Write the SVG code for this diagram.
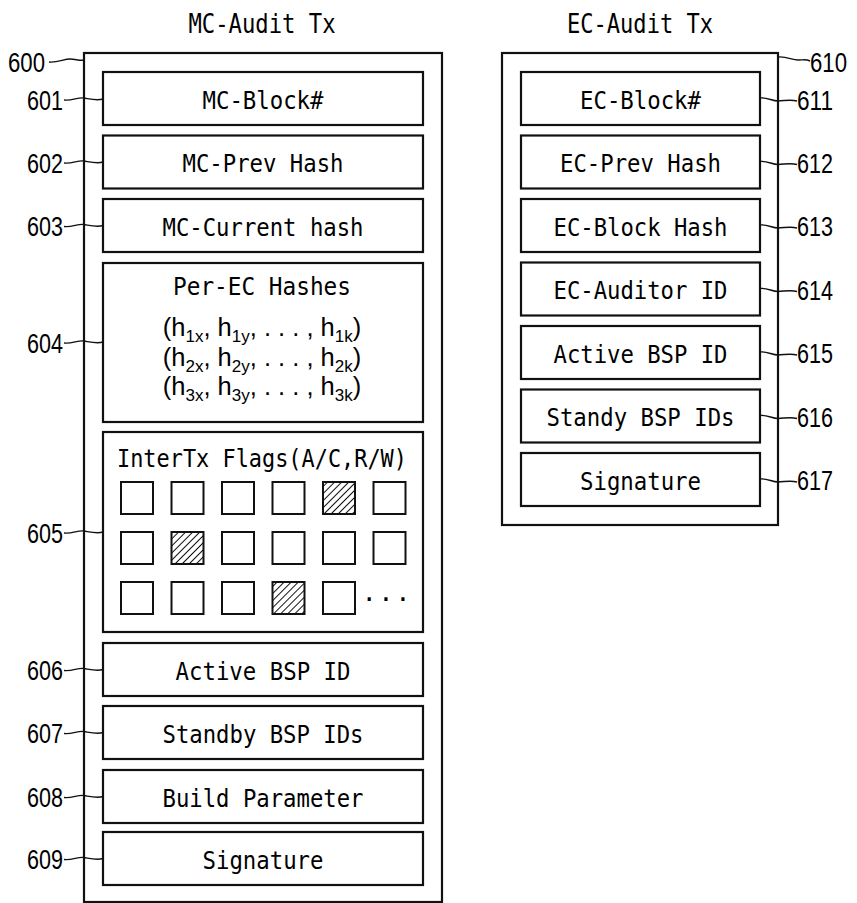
<svg xmlns="http://www.w3.org/2000/svg" width="857" height="903" viewBox="0 0 857 903">
  <style>
    .frame{fill:#fff;stroke:#111;stroke-width:2.2}
    .box{fill:#fff;stroke:#111;stroke-width:2.2}
    .flag{fill:#fff;stroke:#111;stroke-width:2}
    .hatched{fill:url(#hatch);stroke:#111;stroke-width:2}
    .t{font-family:"DejaVu Sans Mono","Liberation Mono",monospace;font-size:25.5px;fill:#000;text-anchor:middle}
    .title{font-size:26.5px}
    .num{font-family:"Liberation Sans",Arial,sans-serif;font-size:27.5px;fill:#000}
    .hash{font-family:"Liberation Sans",Arial,sans-serif;font-size:25.5px;fill:#000;text-anchor:middle}
    .sub{font-size:17px}
    .lead{fill:none;stroke:#111;stroke-width:1.4}
  </style>
  <defs>
    <pattern id="hatch" width="5" height="5" patternUnits="userSpaceOnUse" patternTransform="rotate(45)">
      <rect width="5" height="5" fill="#fff"/>
      <line x1="2.5" y1="0" x2="2.5" y2="5" stroke="#111" stroke-width="1"/>
    </pattern>
  </defs>
  <rect width="857" height="903" fill="#fff"/>

  <!-- MC audit transaction -->
  <g id="mc-audit-tx">
    <text class="t title" x="262" y="33" textLength="147" lengthAdjust="spacingAndGlyphs">MC-Audit Tx</text>
    <rect class="frame" x="84" y="53" width="358" height="849"/>
    <text class="num" x="8" y="72" textLength="37" lengthAdjust="spacingAndGlyphs">600</text>
  </g>
  <g id="mc-block">
    <rect class="box" x="103" y="72" width="320" height="53"/>
    <text class="t" x="263" y="109" textLength="121" lengthAdjust="spacingAndGlyphs">MC-Block#</text>
    <text class="num" x="27" y="109.5" textLength="36" lengthAdjust="spacingAndGlyphs">601</text>
  </g>
  <g id="mc-prev-hash">
    <rect class="box" x="103" y="135.5" width="320" height="53"/>
    <text class="t" x="263" y="172" textLength="161" lengthAdjust="spacingAndGlyphs">MC-Prev Hash</text>
    <text class="num" x="27" y="172.5" textLength="36" lengthAdjust="spacingAndGlyphs">602</text>
  </g>
  <g id="mc-current-hash">
    <rect class="box" x="103" y="199" width="320" height="53"/>
    <text class="t" x="263" y="235.5" textLength="201" lengthAdjust="spacingAndGlyphs">MC-Current hash</text>
    <text class="num" x="27" y="236" textLength="36" lengthAdjust="spacingAndGlyphs">603</text>
  </g>
  <g id="per-ec-hashes">
    <rect class="box" x="103" y="263" width="320" height="159"/>
    <text class="t" x="262" y="295" textLength="178" lengthAdjust="spacingAndGlyphs">Per-EC Hashes</text>
    <text class="hash" x="262" y="336">(h<tspan class="sub" dy="6">1x</tspan><tspan dy="-6">, h</tspan><tspan class="sub" dy="6">1y</tspan><tspan dy="-6">, . . . , h</tspan><tspan class="sub" dy="6">1k</tspan><tspan dy="-6">)</tspan></text>
    <text class="hash" x="262" y="366">(h<tspan class="sub" dy="6">2x</tspan><tspan dy="-6">, h</tspan><tspan class="sub" dy="6">2y</tspan><tspan dy="-6">, . . . , h</tspan><tspan class="sub" dy="6">2k</tspan><tspan dy="-6">)</tspan></text>
    <text class="hash" x="262" y="395">(h<tspan class="sub" dy="6">3x</tspan><tspan dy="-6">, h</tspan><tspan class="sub" dy="6">3y</tspan><tspan dy="-6">, . . . , h</tspan><tspan class="sub" dy="6">3k</tspan><tspan dy="-6">)</tspan></text>
    <text class="num" x="27" y="352.5" textLength="36" lengthAdjust="spacingAndGlyphs">604</text>
  </g>
  <g id="intertx-flags">
    <rect class="box" x="103" y="432" width="320" height="200"/>
    <text class="t" x="262" y="467" textLength="290" lengthAdjust="spacingAndGlyphs">InterTx Flags(A/C,R/W)</text>
    <!-- row 1 -->
    <rect class="flag" x="121" y="482" width="32" height="32"/>
    <rect class="flag" x="171.5" y="482" width="32" height="32"/>
    <rect class="flag" x="222" y="482" width="32" height="32"/>
    <rect class="flag" x="272.5" y="482" width="32" height="32"/>
    <rect class="hatched" x="323" y="482" width="32" height="32"/>
    <rect class="flag" x="373.5" y="482" width="32" height="32"/>
    <!-- row 2 -->
    <rect class="flag" x="121" y="532" width="32" height="32"/>
    <rect class="hatched" x="171.5" y="532" width="32" height="32"/>
    <rect class="flag" x="222" y="532" width="32" height="32"/>
    <rect class="flag" x="272.5" y="532" width="32" height="32"/>
    <rect class="flag" x="323" y="532" width="32" height="32"/>
    <rect class="flag" x="373.5" y="532" width="32" height="32"/>
    <!-- row 3 -->
    <rect class="flag" x="121" y="582" width="32" height="32"/>
    <rect class="flag" x="171.5" y="582" width="32" height="32"/>
    <rect class="flag" x="222" y="582" width="32" height="32"/>
    <rect class="hatched" x="272.5" y="582" width="32" height="32"/>
    <rect class="flag" x="323" y="582" width="32" height="32"/>
    <text class="t" x="386" y="601" textLength="49" lengthAdjust="spacing">...</text>
    <text class="num" x="27" y="542.5" textLength="36" lengthAdjust="spacingAndGlyphs">605</text>
  </g>
  <g id="mc-active-bsp">
    <rect class="box" x="103" y="643" width="320" height="53"/>
    <text class="t" x="263" y="680" textLength="175" lengthAdjust="spacingAndGlyphs">Active BSP ID</text>
    <text class="num" x="27" y="680" textLength="36" lengthAdjust="spacingAndGlyphs">606</text>
  </g>
  <g id="mc-standby-bsp">
    <rect class="box" x="103" y="706" width="320" height="53"/>
    <text class="t" x="263" y="742.5" textLength="201" lengthAdjust="spacingAndGlyphs">Standby BSP IDs</text>
    <text class="num" x="27" y="743" textLength="36" lengthAdjust="spacingAndGlyphs">607</text>
  </g>
  <g id="mc-build-parameter">
    <rect class="box" x="103" y="770" width="320" height="53"/>
    <text class="t" x="263" y="806.5" textLength="201" lengthAdjust="spacingAndGlyphs">Build Parameter</text>
    <text class="num" x="27" y="807" textLength="36" lengthAdjust="spacingAndGlyphs">608</text>
  </g>
  <g id="mc-signature">
    <rect class="box" x="103" y="832" width="320" height="53"/>
    <text class="t" x="263" y="868.5" textLength="121" lengthAdjust="spacingAndGlyphs">Signature</text>
    <text class="num" x="27" y="869" textLength="36" lengthAdjust="spacingAndGlyphs">609</text>
  </g>

  <!-- EC audit transaction -->
  <g id="ec-audit-tx">
    <text class="t title" x="640" y="33" textLength="146" lengthAdjust="spacingAndGlyphs">EC-Audit Tx</text>
    <rect class="frame" x="502" y="53" width="276" height="472"/>
    <text class="num" x="810" y="72" textLength="37" lengthAdjust="spacingAndGlyphs">610</text>
  </g>
  <g id="ec-block">
    <rect class="box" x="521" y="72" width="239" height="53"/>
    <text class="t" x="640.5" y="109" textLength="121" lengthAdjust="spacingAndGlyphs">EC-Block#</text>
    <text class="num" x="797" y="109.5" textLength="36" lengthAdjust="spacingAndGlyphs">611</text>
  </g>
  <g id="ec-prev-hash">
    <rect class="box" x="521" y="135.5" width="239" height="53"/>
    <text class="t" x="640.5" y="172" textLength="161" lengthAdjust="spacingAndGlyphs">EC-Prev Hash</text>
    <text class="num" x="797" y="172.5" textLength="36" lengthAdjust="spacingAndGlyphs">612</text>
  </g>
  <g id="ec-block-hash">
    <rect class="box" x="521" y="199" width="239" height="53"/>
    <text class="t" x="640.5" y="235.5" textLength="174" lengthAdjust="spacingAndGlyphs">EC-Block Hash</text>
    <text class="num" x="797" y="236" textLength="36" lengthAdjust="spacingAndGlyphs">613</text>
  </g>
  <g id="ec-auditor-id">
    <rect class="box" x="521" y="262.5" width="239" height="53"/>
    <text class="t" x="640.5" y="299" textLength="174" lengthAdjust="spacingAndGlyphs">EC-Auditor ID</text>
    <text class="num" x="797" y="299.5" textLength="36" lengthAdjust="spacingAndGlyphs">614</text>
  </g>
  <g id="ec-active-bsp">
    <rect class="box" x="521" y="326" width="239" height="53"/>
    <text class="t" x="640.5" y="362.5" textLength="174" lengthAdjust="spacingAndGlyphs">Active BSP ID</text>
    <text class="num" x="797" y="363" textLength="36" lengthAdjust="spacingAndGlyphs">615</text>
  </g>
  <g id="ec-standby-bsp">
    <rect class="box" x="521" y="389.5" width="239" height="53"/>
    <text class="t" x="640.5" y="426" textLength="188" lengthAdjust="spacingAndGlyphs">Standy BSP IDs</text>
    <text class="num" x="797" y="426.5" textLength="36" lengthAdjust="spacingAndGlyphs">616</text>
  </g>
  <g id="ec-signature">
    <rect class="box" x="521" y="453" width="239" height="53"/>
    <text class="t" x="640.5" y="489.5" textLength="121" lengthAdjust="spacingAndGlyphs">Signature</text>
    <text class="num" x="797" y="490" textLength="36" lengthAdjust="spacingAndGlyphs">617</text>
  </g>

  <!-- reference-numeral leader lines -->
  <g id="leaders">
    <path class="lead" d="M49,62 C57,63 64,59 70,59 S79,61 84,60"/>
    <path class="lead" d="M64,100 C72,101 78,97 84,98 S97,101 103,99"/>
    <path class="lead" d="M64,163 C72,164 78,160 84,161 S97,164 103,162"/>
    <path class="lead" d="M64,226.5 C72,227.5 78,223.5 84,224.5 S97,227.5 103,225.5"/>
    <path class="lead" d="M64,343 C72,344 78,340 84,341 S97,344 103,342"/>
    <path class="lead" d="M64,533 C72,534 78,530 84,531 S97,534 103,532"/>
    <path class="lead" d="M64,670.5 C72,671.5 78,667.5 84,668.5 S97,671.5 103,669.5"/>
    <path class="lead" d="M64,733.5 C72,734.5 78,730.5 84,731.5 S97,734.5 103,732.5"/>
    <path class="lead" d="M64,797.5 C72,798.5 78,794.5 84,795.5 S97,798.5 103,796.5"/>
    <path class="lead" d="M64,859.5 C72,860.5 78,856.5 84,857.5 S97,860.5 103,858.5"/>
    <path class="lead" d="M778,57 C786,56 792,60 798,60 S806,59 810,61"/>
    <path class="lead" d="M760,98 C767,97 772,101 778,101 S790,99 797,101"/>
    <path class="lead" d="M760,161.5 C767,160.5 772,164.5 778,164.5 S790,162.5 797,164.5"/>
    <path class="lead" d="M760,225 C767,224 772,228 778,228 S790,226 797,228"/>
    <path class="lead" d="M760,288.5 C767,287.5 772,291.5 778,291.5 S790,289.5 797,291.5"/>
    <path class="lead" d="M760,352 C767,351 772,355 778,355 S790,353 797,355"/>
    <path class="lead" d="M760,415.5 C767,414.5 772,418.5 778,418.5 S790,416.5 797,418.5"/>
    <path class="lead" d="M760,479 C767,478 772,482 778,482 S790,480 797,482"/>
  </g>
</svg>
